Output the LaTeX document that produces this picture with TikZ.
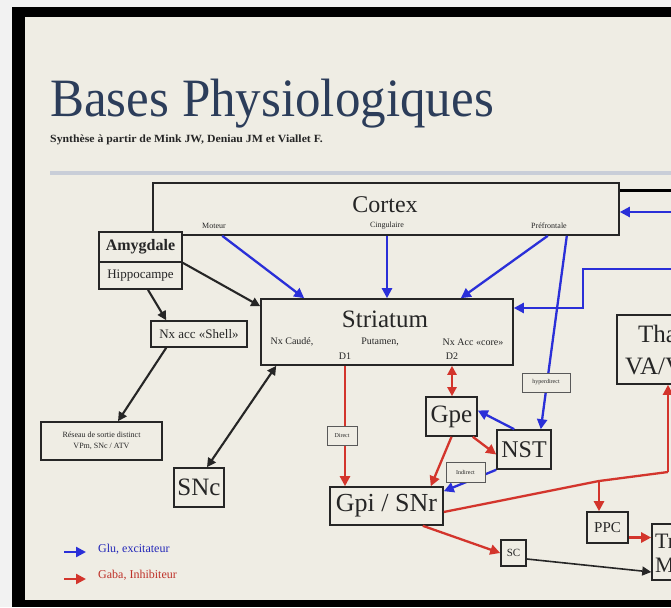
\documentclass[tikz,border=0pt]{standalone}
\usepackage{fontspec}
\setmainfont{Liberation Serif}
\usetikzlibrary{arrows.meta,positioning}

\definecolor{paper}{HTML}{EFEDE4}
\definecolor{ink}{HTML}{262626}
\definecolor{glu}{HTML}{2A2FD8}
\definecolor{gaba}{HTML}{D3352C}
\definecolor{titleblue}{HTML}{2C3D5A}
\definecolor{rulegray}{HTML}{C9CED8}
\newcommand{\fsz}[1]{\fontsize{#1}{#1}\selectfont}

\begin{document}
\begin{tikzpicture}[x=1pt,y=-1pt,
  box/.style={draw=ink,line width=1.6pt,fill=paper,inner sep=0pt,text=ink},
  tag/.style={draw=gray!70!black,line width=0.7pt,fill=paper,inner sep=0pt,font=\fsz{6},text=ink},
  txt/.style={inner sep=0pt,text=ink},
  glu/.style={draw=glu,line width=2.3pt,-{Triangle[length=10pt,width=10pt]}},
  gaba/.style={draw=gaba,line width=2.3pt,-{Triangle[length=10pt,width=10pt]}},
  link/.style={draw=ink,line width=2.1pt,-{Triangle[length=9pt,width=9pt]}}]
\useasboundingbox (0,0) rectangle (671,607);
\clip (0,0) rectangle (671,607);
% frame and slide
\fill[white!95!black] (0,0) rectangle (671,607);
\fill[black] (12,7) rectangle (671,607);
\fill[paper] (25,17) rectangle (671,600);
\node[anchor=base west,inner sep=0pt,text=titleblue,font=\fsz{54},xscale=0.945] (title) at (50,117) {Bases Physiologiques};
\node[anchor=base west,inner sep=0pt,text=ink,font=\fsz{11}\bfseries,xscale=1.07] (subtitle) at (50,142) {Synthèse à partir de Mink JW, Deniau JM et Viallet F.};
\draw[rulegray,line width=4pt] (50,173) -- (671,173);

% boxes
\node[box,minimum width=466pt,minimum height=52pt] (cortex) at (386,209) {};
\node[txt,font=\fsz{24}] (cortexT) at (385,205) {Cortex};
\node[txt,font=\fsz{8}] (moteur) at (214,226) {Moteur};
\node[txt,font=\fsz{8}] (cingul) at (387,226) {Cingulaire};
\node[txt,font=\fsz{8}] (prefront) at (549,226) {Préfrontale};
\node[box,minimum width=83pt,minimum height=30pt,font=\fsz{16}\bfseries] (amyg) at (140.5,247) {Amygdale};
\node[box,minimum width=83pt,minimum height=27pt,font=\fsz{13}] (hippo) at (140.5,275.5) {Hippocampe};
\node[box,minimum width=96pt,minimum height=26pt,font=\fsz{13}] (shell) at (199,334) {Nx acc «Shell»};
\node[box,minimum width=252pt,minimum height=66pt] (striatum) at (387,332) {};
\node[txt,font=\fsz{25}] (striatumT) at (385,319) {Striatum};
\node[txt,font=\fsz{10}] (caude) at (292,342) {Nx Caudé,};
\node[txt,font=\fsz{10}] (putamen) at (380,342) {Putamen,};
\node[txt,font=\fsz{10}] (core) at (473,342) {Nx Acc «core»};
\node[txt,font=\fsz{10}] (d1) at (345,356) {D1};
\node[txt,font=\fsz{10}] (d2) at (452,356) {D2};
\node[box,minimum width=126pt,minimum height=69pt] (thal) at (680,349.5) {};
\node[txt,anchor=west,font=\fsz{25}] (thalA) at (638,334) {Thalamus};
\node[txt,anchor=west,font=\fsz{25}] (thalB) at (625,366) {VA/VL};
\node[box,minimum width=51pt,minimum height=39pt,font=\fsz{25}] (gpe) at (451.5,416.5) {Gpe};
\node[box,minimum width=54pt,minimum height=39pt,font=\fsz{24}] (nst) at (524,449.5) {NST};
\node[box,minimum width=113pt,minimum height=38pt,font=\fsz{26}] (gpi) at (386.5,506) {Gpi / SNr};
\node[box,minimum width=50pt,minimum height=39pt,font=\fsz{25}] (snc) at (199,487.5) {SNc};
\node[box,minimum width=121pt,minimum height=38pt,font=\fsz{8},align=center] (reseau) at (101.5,441) {Réseau de sortie distinct\\[3pt]VPm, SNc / ATV};
\node[box,minimum width=25pt,minimum height=26pt,font=\fsz{11}] (sc) at (513.5,553) {SC};
\node[box,minimum width=41pt,minimum height=31pt,font=\fsz{15}] (ppc) at (607.5,527.5) {PPC};
\node[box,minimum width=78pt,minimum height=56pt] (tronc) at (691,552) {};
\node[txt,anchor=west,align=left,font=\fsz{22}] (troncT) at (655,553) {Tronc\\[2pt]Moelle};

% connectors
\coordinate (topR) at (671,190);
\coordinate (thR1) at (671,212);
\coordinate (thR2) at (671,269);
\draw[black,line width=3pt] (topR -| cortex.east) -- (topR);
\draw[glu] (thR1) -- (thR1 -| cortex.east);
\draw[glu] (thR2) -- ++(-88,0) |- ([yshift=24pt]striatum.east);
\draw[glu] ([xshift=70pt]cortex.south west) -- ([xshift=44pt]striatum.north west);
\draw[glu] (cingul |- cortex.south) -- (cingul |- striatum.north);
\draw[glu] ([xshift=-72pt]cortex.south east) -- ([xshift=-53pt]striatum.north east);
\draw[glu] ([xshift=-53pt]cortex.south east) -- ([xshift=-11pt]nst.north east);
\draw[link] (amyg.south east) -- ([yshift=-8pt]striatum.north west);
\draw[link] ([xshift=7.5pt]hippo.south) -- ([xshift=16pt]shell.north west);
\draw[link] ([xshift=16pt]shell.south west) -- ([xshift=16.5pt]reseau.north);
\draw[link,{Triangle[length=9pt,width=9pt]}-{Triangle[length=9pt,width=9pt]}] ([xshift=8pt]snc.north) -- ([xshift=16pt]striatum.south west);
\draw[gaba] (d1 |- striatum.south) -- (d1 |- gpi.north);
\draw[gaba,{Triangle[length=9pt,width=9pt]}-{Triangle[length=9pt,width=9pt]}] (d2 |- striatum.south) -- (d2 |- gpe.north);
\draw[gaba] (gpe.south) -- ([xshift=-13pt]gpi.north east);
\draw[gaba] ([xshift=-5pt]gpe.south east) -- ([yshift=-5pt]nst.west);
\draw[glu] ([xshift=18pt]nst.north west) -- ([yshift=6pt]gpe.east);
\draw[glu] (nst.south west) -- ([yshift=-5pt]gpi.north east);
\coordinate (br) at (599,481);
\coordinate (turn) at (668,472);
\draw[gaba,-] ([yshift=-6pt]gpi.east) -- (br) -- (turn);
\draw[gaba] (turn) -- (turn |- thal.south);
\draw[gaba] (br) -- (br |- ppc.north);
\draw[gaba] ([yshift=-10pt]ppc.east) -- ([yshift=-10pt]ppc.east -| tronc.west);
\draw[gaba] ([xshift=-21pt]gpi.south east) -- (sc.west);
\draw[link,line width=1.6pt] ([yshift=-6pt]sc.east) -- ([yshift=-20pt]tronc.west);

% path labels
\node[tag,minimum width=30pt,minimum height=19pt] (direct) at (342,436) {Direct};
\node[tag,minimum width=39pt,minimum height=20pt] (indirect) at (465.5,472) {Indirect};
\node[tag,minimum width=48pt,minimum height=19pt] (hyperd) at (546,382.5) {hyperdirect};

% legend
\coordinate (gluA) at (64,552);
\coordinate (gabaA) at (64,579);
\draw[glu] (gluA) -- ++(22,0);
\draw[gaba] (gabaA) -- ++(22,0);
\node[txt,anchor=west,text=glu!85!black,font=\fsz{12}] (gluT) at (98,549) {Glu, excitateur};
\node[txt,anchor=west,text=gaba!90!black,font=\fsz{12}] (gabaT) at (98,575) {Gaba, Inhibiteur};
\end{tikzpicture}
\end{document}
